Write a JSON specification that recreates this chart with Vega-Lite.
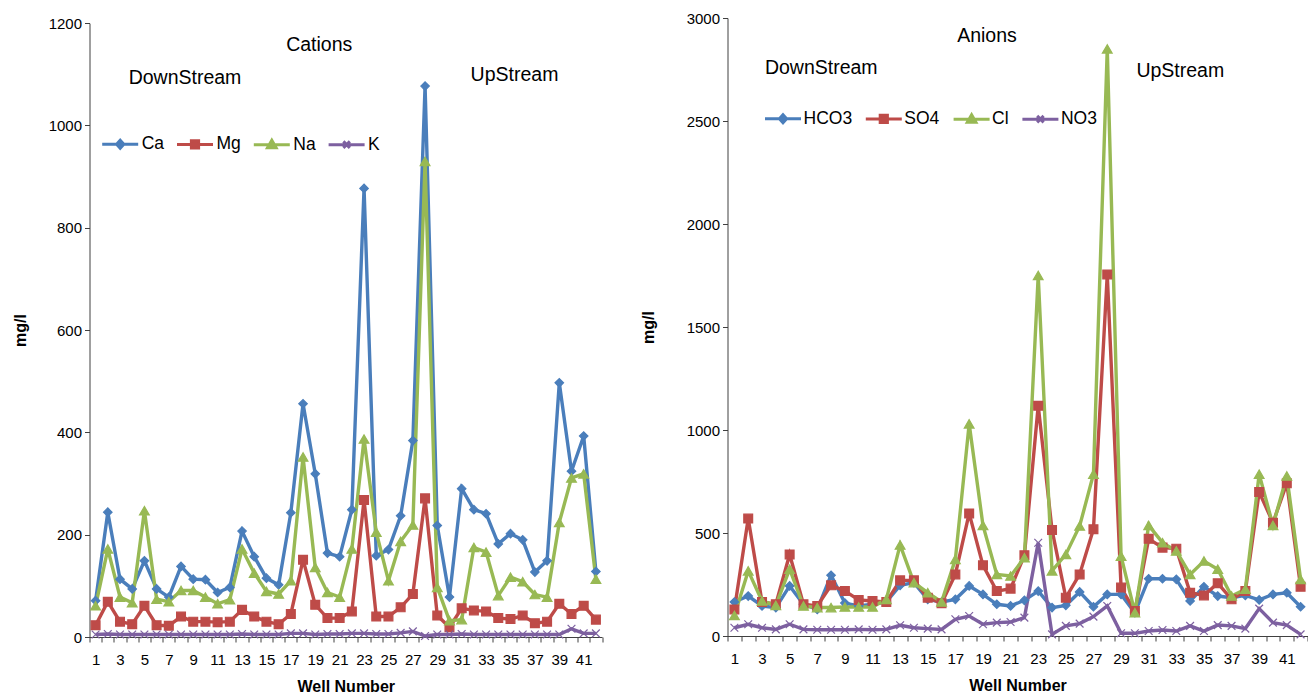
{
  "$schema": "https://vega.github.io/schema/vega-lite/v6.json",
  "background": "white",
  "padding": {"left": 12.5, "top": 11, "right": 0, "bottom": 0},
  "config": {
    "view": {"stroke": null},
    "font": "Liberation Sans",
    "axis": {"domainColor": "#404040", "tickColor": "#404040", "labelFont": "Liberation Sans", "labelFontSize": 15, "labelColor": "#000", "titleFont": "Liberation Sans", "titleFontSize": 16, "titleFontWeight": "bold", "titleColor": "#000", "grid": false, "tickSize": 5, "domainWidth": 1, "tickWidth": 1},
    "legend": {"labelFont": "Liberation Sans", "labelFontSize": 17.5, "labelColor": "#000", "symbolStrokeWidth": 3, "symbolOpacity": 1, "padding": 0}
  },
  "datasets": {
    "cations": [
      {"well": 1, "Ca": 71, "Mg": 23, "Na": 61, "K": 5},
      {"well": 2, "Ca": 244, "Mg": 69, "Na": 172, "K": 6},
      {"well": 3, "Ca": 113, "Mg": 30, "Na": 78, "K": 5},
      {"well": 4, "Ca": 94, "Mg": 25, "Na": 67, "K": 5},
      {"well": 5, "Ca": 149, "Mg": 61, "Na": 247, "K": 5},
      {"well": 6, "Ca": 94, "Mg": 23, "Na": 74, "K": 5},
      {"well": 7, "Ca": 78, "Mg": 22, "Na": 69, "K": 5},
      {"well": 8, "Ca": 138, "Mg": 40, "Na": 91, "K": 5},
      {"well": 9, "Ca": 113, "Mg": 30, "Na": 91, "K": 5},
      {"well": 10, "Ca": 112, "Mg": 30, "Na": 78, "K": 5},
      {"well": 11, "Ca": 87, "Mg": 29, "Na": 65, "K": 5},
      {"well": 12, "Ca": 97, "Mg": 30, "Na": 73, "K": 5},
      {"well": 13, "Ca": 207, "Mg": 53, "Na": 172, "K": 6},
      {"well": 14, "Ca": 157, "Mg": 40, "Na": 125, "K": 5},
      {"well": 15, "Ca": 115, "Mg": 30, "Na": 89, "K": 5},
      {"well": 16, "Ca": 102, "Mg": 25, "Na": 84, "K": 5},
      {"well": 17, "Ca": 243, "Mg": 45, "Na": 110, "K": 7},
      {"well": 18, "Ca": 456, "Mg": 151, "Na": 352, "K": 7},
      {"well": 19, "Ca": 319, "Mg": 63, "Na": 136, "K": 5},
      {"well": 20, "Ca": 164, "Mg": 37, "Na": 87, "K": 6},
      {"well": 21, "Ca": 157, "Mg": 37, "Na": 78, "K": 6},
      {"well": 22, "Ca": 249, "Mg": 50, "Na": 172, "K": 7},
      {"well": 23, "Ca": 877, "Mg": 268, "Na": 387, "K": 7},
      {"well": 24, "Ca": 159, "Mg": 40, "Na": 205, "K": 6},
      {"well": 25, "Ca": 171, "Mg": 40, "Na": 110, "K": 6},
      {"well": 26, "Ca": 237, "Mg": 58, "Na": 187, "K": 8},
      {"well": 27, "Ca": 384, "Mg": 84, "Na": 219, "K": 11},
      {"well": 28, "Ca": 1077, "Mg": 271, "Na": 930, "K": 2},
      {"well": 29, "Ca": 218, "Mg": 42, "Na": 97, "K": 5},
      {"well": 30, "Ca": 78, "Mg": 19, "Na": 32, "K": 5},
      {"well": 31, "Ca": 290, "Mg": 56, "Na": 34, "K": 6},
      {"well": 32, "Ca": 249, "Mg": 52, "Na": 175, "K": 5},
      {"well": 33, "Ca": 241, "Mg": 50, "Na": 166, "K": 5},
      {"well": 34, "Ca": 182, "Mg": 37, "Na": 81, "K": 5},
      {"well": 35, "Ca": 202, "Mg": 35, "Na": 117, "K": 5},
      {"well": 36, "Ca": 190, "Mg": 42, "Na": 108, "K": 5},
      {"well": 37, "Ca": 127, "Mg": 27, "Na": 83, "K": 5},
      {"well": 38, "Ca": 149, "Mg": 30, "Na": 78, "K": 5},
      {"well": 39, "Ca": 497, "Mg": 65, "Na": 224, "K": 5},
      {"well": 40, "Ca": 324, "Mg": 45, "Na": 311, "K": 16},
      {"well": 41, "Ca": 393, "Mg": 61, "Na": 319, "K": 7},
      {"well": 42, "Ca": 128, "Mg": 34, "Na": 113, "K": 7}
    ],
    "anions": [
      {"well": 1, "HCO3": 165, "SO4": 129, "Cl": 100, "NO3": 40},
      {"well": 2, "HCO3": 194, "SO4": 570, "Cl": 316, "NO3": 57},
      {"well": 3, "HCO3": 146, "SO4": 165, "Cl": 170, "NO3": 40},
      {"well": 4, "HCO3": 138, "SO4": 154, "Cl": 149, "NO3": 32},
      {"well": 5, "HCO3": 243, "SO4": 396, "Cl": 324, "NO3": 57},
      {"well": 6, "HCO3": 154, "SO4": 154, "Cl": 146, "NO3": 32},
      {"well": 7, "HCO3": 129, "SO4": 146, "Cl": 138, "NO3": 30},
      {"well": 8, "HCO3": 295, "SO4": 246, "Cl": 138, "NO3": 30},
      {"well": 9, "HCO3": 160, "SO4": 218, "Cl": 141, "NO3": 30},
      {"well": 10, "HCO3": 146, "SO4": 175, "Cl": 141, "NO3": 32},
      {"well": 11, "HCO3": 154, "SO4": 170, "Cl": 141, "NO3": 30},
      {"well": 12, "HCO3": 165, "SO4": 165, "Cl": 178, "NO3": 32},
      {"well": 13, "HCO3": 246, "SO4": 270, "Cl": 442, "NO3": 52},
      {"well": 14, "HCO3": 259, "SO4": 270, "Cl": 259, "NO3": 40},
      {"well": 15, "HCO3": 178, "SO4": 186, "Cl": 210, "NO3": 36},
      {"well": 16, "HCO3": 165, "SO4": 159, "Cl": 165, "NO3": 32},
      {"well": 17, "HCO3": 178, "SO4": 299, "Cl": 372, "NO3": 81},
      {"well": 18, "HCO3": 243, "SO4": 595, "Cl": 1030, "NO3": 97},
      {"well": 19, "HCO3": 202, "SO4": 343, "Cl": 537, "NO3": 57},
      {"well": 20, "HCO3": 154, "SO4": 218, "Cl": 299, "NO3": 65},
      {"well": 21, "HCO3": 146, "SO4": 230, "Cl": 291, "NO3": 68},
      {"well": 22, "HCO3": 173, "SO4": 392, "Cl": 380, "NO3": 89},
      {"well": 23, "HCO3": 218, "SO4": 1118, "Cl": 1750, "NO3": 453},
      {"well": 24, "HCO3": 138, "SO4": 515, "Cl": 316, "NO3": 8},
      {"well": 25, "HCO3": 149, "SO4": 186, "Cl": 396, "NO3": 49},
      {"well": 26, "HCO3": 214, "SO4": 299, "Cl": 534, "NO3": 60},
      {"well": 27, "HCO3": 142, "SO4": 518, "Cl": 785, "NO3": 94},
      {"well": 28, "HCO3": 202, "SO4": 1755, "Cl": 2850, "NO3": 146},
      {"well": 29, "HCO3": 202, "SO4": 235, "Cl": 388, "NO3": 13},
      {"well": 30, "HCO3": 113, "SO4": 121, "Cl": 113, "NO3": 13},
      {"well": 31, "HCO3": 278, "SO4": 472, "Cl": 537, "NO3": 24},
      {"well": 32, "HCO3": 278, "SO4": 429, "Cl": 453, "NO3": 29},
      {"well": 33, "HCO3": 275, "SO4": 424, "Cl": 413, "NO3": 24},
      {"well": 34, "HCO3": 170, "SO4": 210, "Cl": 299, "NO3": 49},
      {"well": 35, "HCO3": 239, "SO4": 197, "Cl": 364, "NO3": 24},
      {"well": 36, "HCO3": 194, "SO4": 256, "Cl": 324, "NO3": 53},
      {"well": 37, "HCO3": 186, "SO4": 178, "Cl": 194, "NO3": 49},
      {"well": 38, "HCO3": 197, "SO4": 218, "Cl": 227, "NO3": 36},
      {"well": 39, "HCO3": 175, "SO4": 699, "Cl": 785, "NO3": 133},
      {"well": 40, "HCO3": 202, "SO4": 550, "Cl": 537, "NO3": 65},
      {"well": 41, "HCO3": 210, "SO4": 741, "Cl": 777, "NO3": 53},
      {"well": 42, "HCO3": 142, "SO4": 239, "Cl": 275, "NO3": 8}
    ],
    "cationNotes": [
      {"well": 19, "value": 1158, "label": "Cations"},
      {"well": 8, "value": 1092, "label": "DownStream"},
      {"well": 35, "value": 1098, "label": "UpStream"}
    ],
    "anionNotes": [
      {"well": 19, "value": 2913, "label": "Anions"},
      {"well": 7, "value": 2759, "label": "DownStream"},
      {"well": 33, "value": 2743, "label": "UpStream"}
    ]
  },
  "spacing": 37,
  "resolve": {"scale": {"x": "independent", "y": "independent", "color": "independent", "stroke": "independent", "shape": "independent"}},
  "hconcat": [
    {
      "width": 512.5,
      "height": 619,
      "layer": [
        {
          "data": {"name": "cations"},
          "transform": [{"fold": ["Ca", "Mg", "Na", "K"], "as": ["ion", "value"]}],
          "mark": {"type": "line", "strokeWidth": 3.4},
          "encoding": {
            "x": {"field": "well", "type": "ordinal", "scale": {"type": "band", "paddingInner": 0, "paddingOuter": 0}, "axis": {"title": "Well Number", "labelAngle": 0, "tickBand": "extent", "labelOverlap": false, "labelExpr": "datum.value % 2 == 1 ? datum.label : ''", "labelPadding": 10, "titlePadding": 11}},
            "y": {"field": "value", "type": "quantitative", "scale": {"domain": [0, 1200], "range": [619, 5.2], "nice": false}, "axis": {"title": "mg/l", "format": "d", "values": [0, 200, 400, 600, 800, 1000, 1200], "labelPadding": 3, "titlePadding": 19.5}},
            "detail": {"field": "ion"},
            "color": {"condition": [{"test": "datum.ion === 'Ca'", "value": "#4A7EBB"}, {"test": "datum.ion === 'Mg'", "value": "#BE4B48"}, {"test": "datum.ion === 'Na'", "value": "#98B954"}], "value": "#7D60A0"},
            "order": {"field": "well", "type": "quantitative"}
          }
        },
        {
          "data": {"name": "cations"},
          "transform": [{"fold": ["Ca", "Mg", "Na", "K"], "as": ["ion", "value"]}],
          "mark": {"type": "point", "filled": true, "opacity": 1, "strokeWidth": 1.2},
          "encoding": {
            "x": {"field": "well", "type": "ordinal"},
            "y": {"field": "value", "type": "quantitative"},
            "color": {"condition": [{"test": "datum.ion === 'Ca'", "value": "#4A7EBB"}, {"test": "datum.ion === 'Mg'", "value": "#BE4B48"}, {"test": "datum.ion === 'Na'", "value": "#98B954"}], "value": "#7D60A0"},
            "stroke": {"condition": [{"test": "datum.ion === 'Ca'", "value": "#4A7EBB"}, {"test": "datum.ion === 'Mg'", "value": "#BE4B48"}, {"test": "datum.ion === 'Na'", "value": "#98B954"}], "value": "#7D60A0"},
            "shape": {"condition": [{"test": "datum.ion === 'Ca'", "value": "diamond"}, {"test": "datum.ion === 'Mg'", "value": "square"}, {"test": "datum.ion === 'Na'", "value": "triangle-up"}], "value": "M-1,-1L1,1M-1,1L1,-1"},
            "size": {"condition": [{"test": "datum.ion === 'Ca'", "value": 72}, {"test": "datum.ion === 'Mg'", "value": 78}, {"test": "datum.ion === 'Na'", "value": 95}], "value": 60}
          }
        },
        {
          "data": {"name": "cations"},
          "transform": [{"fold": ["Ca", "Mg", "Na", "K"], "as": ["ion", "value"]}, {"filter": "false"}],
          "mark": {"type": "point", "filled": true, "opacity": 1},
          "encoding": {
            "x": {"field": "well", "type": "ordinal"},
            "y": {"field": "value", "type": "quantitative"},
            "color": {"field": "ion", "type": "nominal", "scale": {"domain": ["Ca", "Mg", "Na", "K"], "range": ["#4A7EBB", "#BE4B48", "#98B954", "#7D60A0"]}, "legend": {"orient": "none", "legendX": 11.2, "legendY": 106.5, "direction": "horizontal", "columns": 4, "title": null, "symbolSize": 1296, "labelOffset": 2, "columnPadding": 5.8}},
            "stroke": {"field": "ion", "type": "nominal", "scale": {"domain": ["Ca", "Mg", "Na", "K"], "range": ["#4A7EBB", "#BE4B48", "#98B954", "#7D60A0"]}, "legend": {"orient": "none", "legendX": 11.2, "legendY": 106.5, "direction": "horizontal", "columns": 4, "title": null, "symbolSize": 1296, "labelOffset": 2, "columnPadding": 5.8}},
            "shape": {"field": "ion", "type": "nominal", "scale": {"domain": ["Ca", "Mg", "Na", "K"], "range": ["M-1,0H1M0,-0.22L0.2,0L0,0.22L-0.2,0Z", "M-1,0H1M-0.2,-0.2H0.2V0.2H-0.2Z", "M-1,0H1M0,-0.24L0.24,0.18H-0.24Z", "M-1,0H1M-0.18,-0.18L0.18,0.18M-0.18,0.18L0.18,-0.18"]}, "legend": {"orient": "none", "legendX": 11.2, "legendY": 106.5, "direction": "horizontal", "columns": 4, "title": null, "symbolSize": 1296, "labelOffset": 2, "columnPadding": 5.8}}
          }
        },
        {
          "data": {"name": "cationNotes"},
          "mark": {"type": "text", "font": "Liberation Sans", "fontSize": 19.5, "color": "#000", "dx": 4},
          "encoding": {
            "x": {"field": "well", "type": "ordinal"},
            "y": {"field": "value", "type": "quantitative"},
            "text": {"field": "label"}
          }
        }
      ]
    },
    {
      "width": 580,
      "height": 618,
      "layer": [
        {
          "data": {"name": "anions"},
          "transform": [{"fold": ["HCO3", "SO4", "Cl", "NO3"], "as": ["ion", "value"]}],
          "mark": {"type": "line", "strokeWidth": 3.4},
          "encoding": {
            "x": {"field": "well", "type": "ordinal", "scale": {"type": "band", "paddingInner": 0, "paddingOuter": 0}, "axis": {"title": "Well Number", "labelAngle": 0, "tickBand": "extent", "labelOverlap": false, "labelExpr": "datum.value % 2 == 1 ? datum.label : ''", "labelPadding": 10, "titlePadding": 11}},
            "y": {"field": "value", "type": "quantitative", "scale": {"domain": [0, 3000], "nice": false}, "axis": {"title": "mg/l", "format": "d", "values": [0, 500, 1000, 1500, 2000, 2500, 3000], "labelPadding": 3, "titlePadding": 29.5}},
            "detail": {"field": "ion"},
            "color": {"condition": [{"test": "datum.ion === 'HCO3'", "value": "#4A7EBB"}, {"test": "datum.ion === 'SO4'", "value": "#BE4B48"}, {"test": "datum.ion === 'Cl'", "value": "#98B954"}], "value": "#7D60A0"},
            "order": {"field": "well", "type": "quantitative"}
          }
        },
        {
          "data": {"name": "anions"},
          "transform": [{"fold": ["HCO3", "SO4", "Cl", "NO3"], "as": ["ion", "value"]}],
          "mark": {"type": "point", "filled": true, "opacity": 1, "strokeWidth": 1.2},
          "encoding": {
            "x": {"field": "well", "type": "ordinal"},
            "y": {"field": "value", "type": "quantitative"},
            "color": {"condition": [{"test": "datum.ion === 'HCO3'", "value": "#4A7EBB"}, {"test": "datum.ion === 'SO4'", "value": "#BE4B48"}, {"test": "datum.ion === 'Cl'", "value": "#98B954"}], "value": "#7D60A0"},
            "stroke": {"condition": [{"test": "datum.ion === 'HCO3'", "value": "#4A7EBB"}, {"test": "datum.ion === 'SO4'", "value": "#BE4B48"}, {"test": "datum.ion === 'Cl'", "value": "#98B954"}], "value": "#7D60A0"},
            "shape": {"condition": [{"test": "datum.ion === 'HCO3'", "value": "diamond"}, {"test": "datum.ion === 'SO4'", "value": "square"}, {"test": "datum.ion === 'Cl'", "value": "triangle-up"}], "value": "M-1,-1L1,1M-1,1L1,-1"},
            "size": {"condition": [{"test": "datum.ion === 'HCO3'", "value": 72}, {"test": "datum.ion === 'SO4'", "value": 78}, {"test": "datum.ion === 'Cl'", "value": 95}], "value": 60}
          }
        },
        {
          "data": {"name": "anions"},
          "transform": [{"fold": ["HCO3", "SO4", "Cl", "NO3"], "as": ["ion", "value"]}, {"filter": "false"}],
          "mark": {"type": "point", "filled": true, "opacity": 1},
          "encoding": {
            "x": {"field": "well", "type": "ordinal"},
            "y": {"field": "value", "type": "quantitative"},
            "color": {"field": "ion", "type": "nominal", "scale": {"domain": ["HCO3", "SO4", "Cl", "NO3"], "range": ["#4A7EBB", "#BE4B48", "#98B954", "#7D60A0"]}, "legend": {"orient": "none", "legendX": 36, "legendY": 81, "direction": "horizontal", "columns": 4, "title": null, "symbolSize": 1296, "labelOffset": 1, "columnPadding": 6.8}},
            "stroke": {"field": "ion", "type": "nominal", "scale": {"domain": ["HCO3", "SO4", "Cl", "NO3"], "range": ["#4A7EBB", "#BE4B48", "#98B954", "#7D60A0"]}, "legend": {"orient": "none", "legendX": 36, "legendY": 81, "direction": "horizontal", "columns": 4, "title": null, "symbolSize": 1296, "labelOffset": 1, "columnPadding": 6.8}},
            "shape": {"field": "ion", "type": "nominal", "scale": {"domain": ["HCO3", "SO4", "Cl", "NO3"], "range": ["M-1,0H1M0,-0.22L0.2,0L0,0.22L-0.2,0Z", "M-1,0H1M-0.2,-0.2H0.2V0.2H-0.2Z", "M-1,0H1M0,-0.24L0.24,0.18H-0.24Z", "M-1,0H1M-0.18,-0.18L0.18,0.18M-0.18,0.18L0.18,-0.18"]}, "legend": {"orient": "none", "legendX": 36, "legendY": 81, "direction": "horizontal", "columns": 4, "title": null, "symbolSize": 1296, "labelOffset": 1, "columnPadding": 6.8}}
          }
        },
        {
          "data": {"name": "anionNotes"},
          "mark": {"type": "text", "font": "Liberation Sans", "fontSize": 19.5, "color": "#000", "dx": 4},
          "encoding": {
            "x": {"field": "well", "type": "ordinal"},
            "y": {"field": "value", "type": "quantitative"},
            "text": {"field": "label"}
          }
        }
      ]
    }
  ]
}
